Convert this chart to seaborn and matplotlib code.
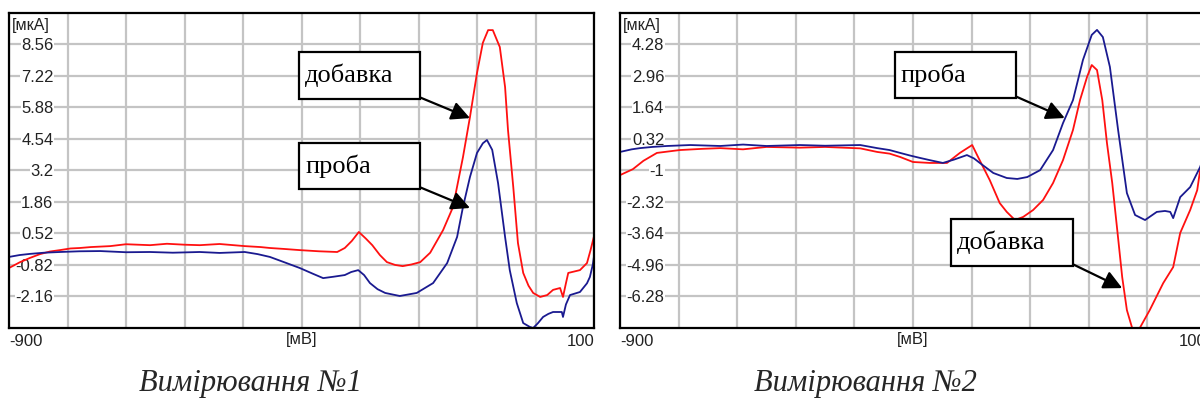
import matplotlib
matplotlib.use("Agg")
import matplotlib.pyplot as plt
from matplotlib.patches import Rectangle
import seaborn as sns

# Measurement 1 (left panel)
left_red_x = [-900, -881, -864, -847, -830, -813, -795, -779, -760, -727, -700, -659, -630, -600, -574,
              -540, -497, -470, -454, -430, -403, -370, -339, -326, -314, -302, -290, -279, -266, -254,
              -240, -227, -212, -197, -180, -158, -141, -124, -112, -100, -90, -81, -73, -61, -52,
              -47, -38, -30, -21, -12, -4, 8, 20, 30, 42, 47, 52, 56, 66, 76, 88, 94, 100]
left_red_y = [-0.95, -0.70, -0.52, -0.36, -0.25, -0.19, -0.12, -0.10, -0.06, -0.02, 0.06, 0.02, 0.08, 0.04, 0.02,
              0.07, -0.02, -0.06, -0.10, -0.14, -0.19, -0.24, -0.27, -0.10, 0.20, 0.58, 0.30, 0.02, -0.40, -0.70,
              -0.82, -0.87, -0.80, -0.70, -0.30, 0.66, 1.64, 3.76, 5.47, 7.34, 8.62, 9.16, 9.16, 8.44, 6.74,
              4.91, 2.49, 0.11, -1.16, -1.70, -2.01, -2.18, -2.10, -1.88, -1.80, -2.18, -1.60, -1.16, -1.10, -1.04,
              -0.74, -0.20, 0.40]
left_blue_x = [-900, -882, -864, -840, -813, -780, -744, -700, -659, -620, -574, -540, -497, -475, -454,
               -430, -403, -380, -363, -345, -326, -315, -303, -293, -283, -270, -257, -232, -203, -175,
               -151, -134, -124, -112, -100, -90, -83, -74, -64, -52, -44, -32, -21, -10, -4,
               4, 13, 22, 30, 45, 47, 52, 59, 76, 88, 93, 98, 100]
left_blue_y = [-0.48, -0.40, -0.35, -0.30, -0.27, -0.24, -0.23, -0.28, -0.27, -0.30, -0.27, -0.31, -0.27, -0.36, -0.48,
               -0.70, -0.95, -1.20, -1.38, -1.32, -1.25, -1.12, -1.04, -1.25, -1.59, -1.85, -2.01, -2.14, -2.01, -1.59,
               -0.74, 0.37, 1.64, 2.92, 3.94, 4.35, 4.49, 4.07, 2.66, 0.37, -1.04, -2.44, -3.29, -3.45, -3.50,
               -3.30, -3.03, -2.90, -2.82, -2.82, -3.03, -2.50, -2.10, -1.97, -1.60, -1.33, -0.80, -0.45]
left_yticks = [8.56, 7.22, 5.88, 4.54, 3.2, 1.86, 0.52, -0.82, -2.16]
left_ylim = (-3.5, 9.9)

# Measurement 2 (right panel)
right_blue_x = [-900, -880, -866, -845, -820, -780, -729, -690, -650, -593, -550, -490, -461, -440, -422,
                -405, -388, -370, -349, -330, -308, -296, -286, -263, -240, -222, -205, -183, -161, -144,
                -127, -110, -95, -86, -76, -64, -50, -35, -21, -4, 16, 30, 39, 44, 56, 73, 90, 100]
right_blue_y = [-0.23, -0.12, -0.07, -0.02, 0.02, 0.06, 0.02, 0.08, 0.02, 0.06, 0.03, 0.06, -0.07, -0.15, -0.27,
                -0.38, -0.48, -0.58, -0.69, -0.55, -0.36, -0.50, -0.69, -1.11, -1.32, -1.36, -1.28, -0.99, -0.15, 0.98,
                1.94, 3.62, 4.67, 4.88, 4.58, 3.33, 0.69, -1.95, -2.87, -3.08, -2.74, -2.70, -2.74, -3.00, -2.12,
                -1.70, -0.86, -0.15]
right_red_x = [-900, -878, -860, -837, -798, -760, -729, -690, -650, -593, -550, -490, -461, -440, -422,
               -400, -371, -342, -320, -299, -289, -269, -252, -240, -226, -212, -195, -178, -161, -144,
               -127, -115, -103, -95, -86, -77, -69, -60, -52, -43, -35, -26, -13, 4, 27,
               44, 56, 73, 85, 90, 100]
right_red_y = [-1.20, -0.95, -0.60, -0.27, -0.15, -0.10, -0.07, -0.12, -0.02, -0.05, -0.02, -0.08, -0.23, -0.30, -0.44,
               -0.65, -0.69, -0.69, -0.27, 0.06, -0.44, -1.41, -2.37, -2.74, -3.08, -2.95, -2.66, -2.24, -1.53, -0.57,
               0.69, 1.94, 2.91, 3.41, 3.20, 1.94, 0.14, -1.53, -3.37, -5.47, -6.85, -7.60, -7.60, -6.85, -5.72,
               -5.05, -3.62, -2.66, -1.83, -0.99, -0.15]
right_yticks = [4.28, 2.96, 1.64, 0.32, -1, -2.32, -3.64, -4.96, -6.28]
right_ylim = (-7.6, 5.6)

x_grid = list(range(-900, 101, 100))
x_labels = ['-900'] + [''] * 9 + ['100']
titles = ['Вимірювання №1', 'Вимірювання №2']

RED = '#ff1010'
BLUE = '#1a1a90'
GRID = '#c4c4c4'

sns.set_style('white')
plt.rcParams['font.family'] = ['Liberation Sans', 'DejaVu Sans']


def setup_axes(ax, yticks, ylim):
    ax.set_xlim(-900, 100)
    ax.set_ylim(*ylim)
    ax.set_xticks(x_grid)
    ax.set_xticklabels(x_labels)
    ax.set_yticks(yticks)
    ax.set_yticklabels([f'{v:g}' for v in yticks])
    ax.grid(True, color=GRID, linewidth=1.6)
    ax.set_axisbelow(True)
    for sp in ax.spines.values():
        sp.set_color('black')
        sp.set_linewidth(1.6)
    ax.tick_params(axis='y', direction='in', length=4, width=1, color='#444444',
                   pad=-32, labelsize=12, labelcolor='#222222')
    for lab in ax.get_yticklabels():
        lab.set_horizontalalignment('right')
        lab.set_bbox(dict(facecolor='white', edgecolor='none', pad=0.5))
    ax.tick_params(axis='x', length=0, pad=4, labelsize=12, labelcolor='#222222')
    xl = ax.get_xticklabels()
    xl[0].set_horizontalalignment('left')
    xl[-1].set_horizontalalignment('right')
    ax.text(0.005, 0.982, '[мкА]', transform=ax.transAxes, ha='left', va='top',
            fontsize=11.5, color='#222222', bbox=dict(facecolor='white', edgecolor='none', pad=0.5))
    ax.text(0.5, -0.012, '[мВ]', transform=ax.transAxes, ha='center', va='top',
            fontsize=12, color='#222222')


def callout(ax, text, box, tip):
    # box = (left, bottom, right, top) in axes fraction, tip in data coords
    l, b, r, t = box
    ax.add_patch(Rectangle((l, b), r - l, t - b, transform=ax.transAxes,
                           facecolor='white', edgecolor='black', linewidth=1.6, zorder=5))
    ax.text(l + 0.01, (b + t) / 2, text, transform=ax.transAxes, ha='left', va='center',
            fontsize=19, family='Liberation Serif', color='black', zorder=6)
    ax.annotate('', xy=tip, xycoords='data', xytext=(r, b + 0.005), textcoords='axes fraction',
                arrowprops=dict(arrowstyle='-|>', color='black', lw=1.6, mutation_scale=28,
                                shrinkA=0, shrinkB=0), zorder=6)


fig = plt.figure(figsize=(12, 4.03), dpi=100)
ax1 = fig.add_axes([9 / 1200, 75 / 403, 585 / 1200, 315.3 / 403])
ax2 = fig.add_axes([620 / 1200, 75 / 403, 586 / 1200, 315.3 / 403])

setup_axes(ax1, left_yticks, left_ylim)
sns.lineplot(x=left_red_x, y=left_red_y, ax=ax1, color=RED, linewidth=1.3, sort=False)
sns.lineplot(x=left_blue_x, y=left_blue_y, ax=ax1, color=BLUE, linewidth=1.3, sort=False)
callout(ax1, 'добавка', (0.496, 0.726, 0.703, 0.875), (-112, 5.42))
callout(ax1, 'проба', (0.496, 0.441, 0.703, 0.587), (-112, 1.6))

setup_axes(ax2, right_yticks, right_ylim)
sns.lineplot(x=right_red_x, y=right_red_y, ax=ax2, color=RED, linewidth=1.3, sort=False)
sns.lineplot(x=right_blue_x, y=right_blue_y, ax=ax2, color=BLUE, linewidth=1.3, sort=False)
callout(ax2, 'проба', (0.469, 0.729, 0.676, 0.875), (-141, 1.19))
callout(ax2, 'добавка', (0.565, 0.197, 0.773, 0.346), (-43, -5.93))

for ax in (ax1, ax2):
    ax.set_xlabel('')
    ax.set_ylabel('')

fig.text(250 / 1200, 1 - 383 / 403, titles[0], ha='center', va='center',
         fontsize=22, family='Liberation Serif', style='italic')
fig.text(865 / 1200, 1 - 383 / 403, titles[1], ha='center', va='center',
         fontsize=22, family='Liberation Serif', style='italic')

fig.savefig('out.png', dpi=100, facecolor='white')
